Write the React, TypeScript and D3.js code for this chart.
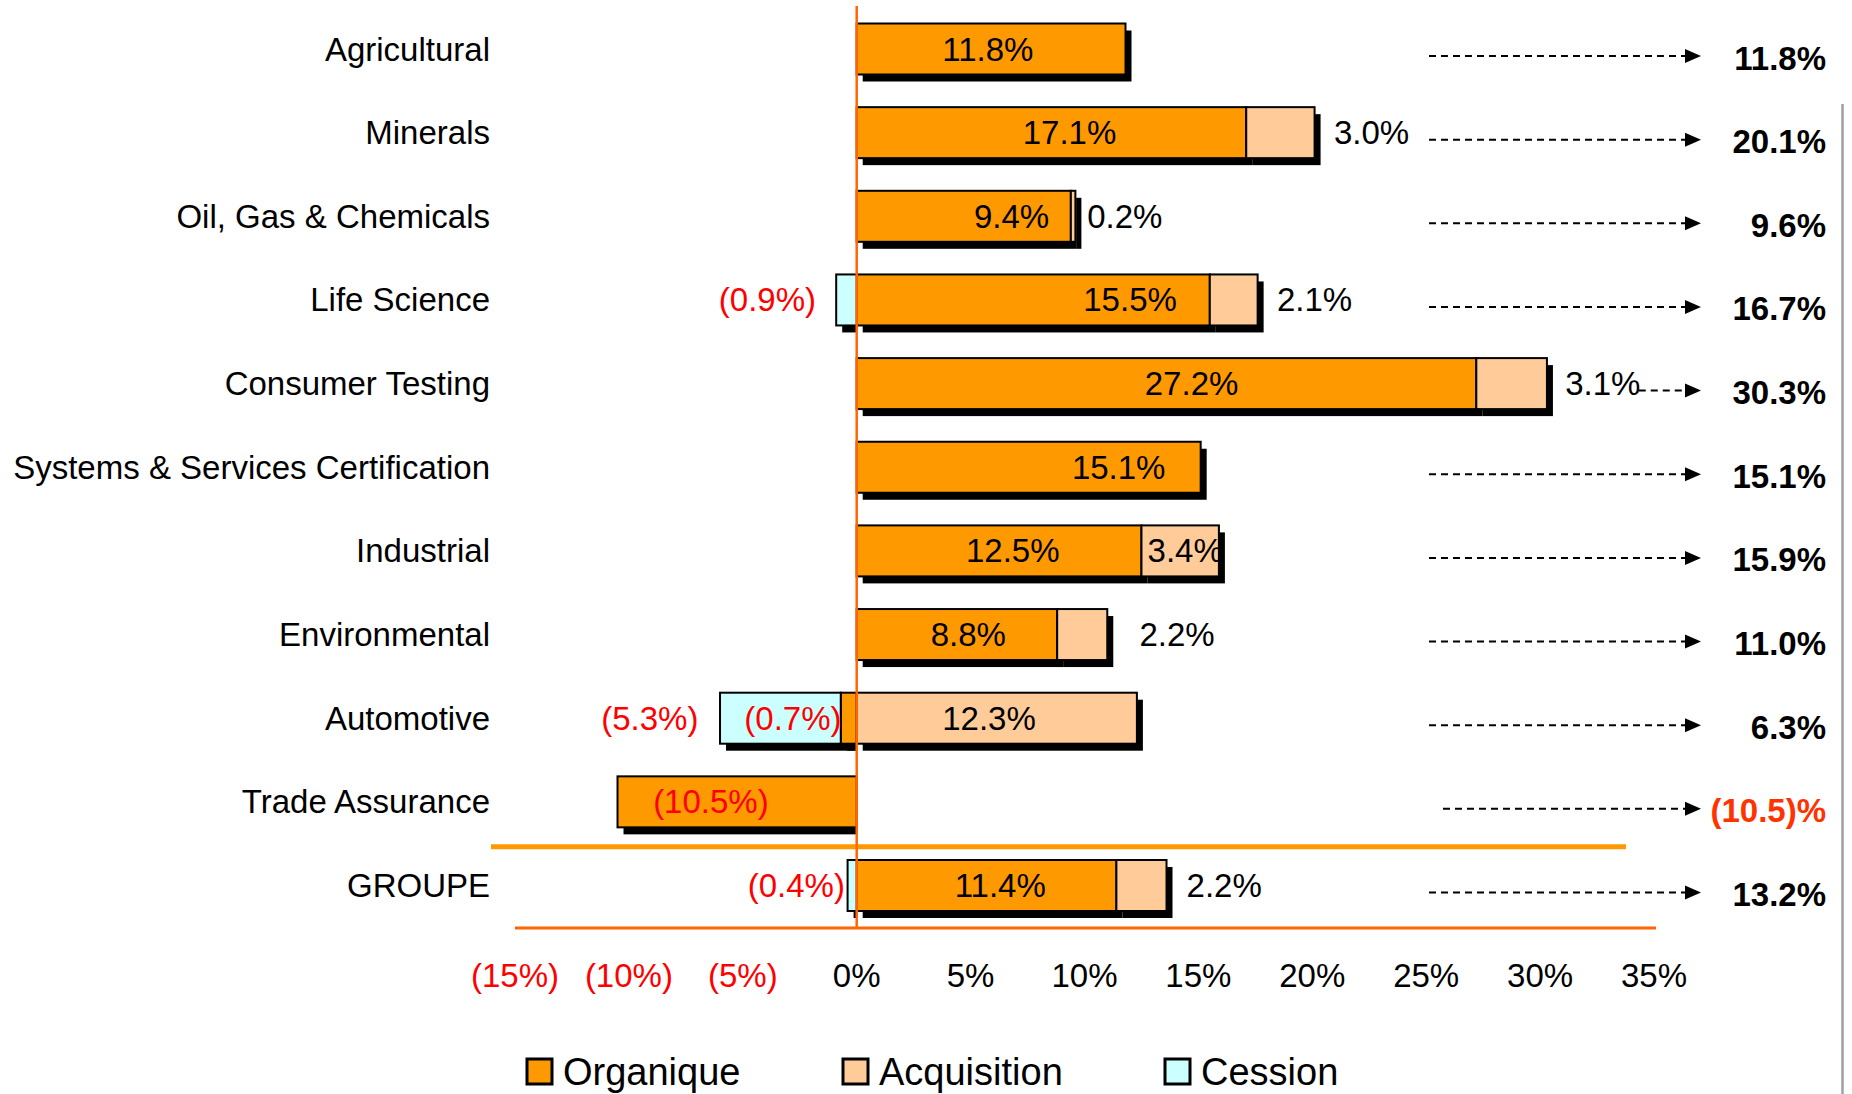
import React from 'react';
import * as d3 from 'd3';

// rows, top to bottom
const categories = [
  'Agricultural',
  'Minerals',
  'Oil, Gas & Chemicals',
  'Life Science',
  'Consumer Testing',
  'Systems & Services Certification',
  'Industrial',
  'Environmental',
  'Automotive',
  'Trade Assurance',
  'GROUPE',
];
const organique = [11.8, 17.1, 9.4, 15.5, 27.2, 15.1, 12.5, 8.8, -0.7, -10.5, 11.4];
const acquisition = [0, 3.0, 0.2, 2.1, 3.1, 0, 3.4, 2.2, 12.3, 0, 2.2];
const cession = [0, 0, 0, -0.9, 0, 0, 0, 0, -5.3, 0, -0.4];
const totals = [11.8, 20.1, 9.6, 16.7, 30.3, 15.1, 15.9, 11.0, 6.3, -10.5, 13.2];
const xTicks = [-15, -10, -5, 0, 5, 10, 15, 20, 25, 30, 35];

// where each value label sits along the axis (in % units)
const orgLabelAt = [5.76, 9.34, 6.8, 12.0, 14.7, 11.5, 6.85, 4.9, -2.8, -6.4, 6.3];
const acqLabelAt = [null, 22.6, 11.77, 20.1, 32.75, null, 14.42, 14.06, 5.81, null, 16.13];
const cesLabelAt = [null, null, null, -3.92, null, null, null, null, -9.08, null, -2.65];

const legendNames = ['Organique', 'Acquisition', 'Cession'];

const style = {
  font: '"Liberation Sans", Arial, sans-serif',
  fontSize: 33,
  legendFontSize: 38,
  orange: '#FF9900',
  peach: '#FFCC99',
  cyan: '#CCFFFF',
  red: '#FF0000',
  totalRed: '#FF3300',
  zeroLine: '#FF6600',
  barHeight: 51,
  shadowDx: 6,
  shadowDy: 7,
};

const keys = ['org', 'acq', 'ces'] as const;
const fills: Record<string, string> = { org: style.orange, acq: style.peach, ces: style.cyan };

const fmt = (v: number) => (v < 0 ? `(${Math.abs(v).toFixed(1)}%)` : `${v.toFixed(1)}%`);
const fmtTick = (v: number) => (v < 0 ? `(${Math.abs(v)}%)` : `${v}%`);
const fmtTotal = (v: number) => (v < 0 ? `(${Math.abs(v).toFixed(1)})%` : `${v.toFixed(1)}%`);

const width = 1852;
const height = 1094;

const App: React.FC = () => {
  const x = d3.scaleLinear().domain([-15, 35]).range([515, 1654]);
  const y = d3.scalePoint<string>().domain(categories).range([49, 885.5]);

  const rows = categories.map((c, i) => ({
    cat: c,
    org: organique[i],
    acq: acquisition[i],
    ces: cession[i],
  }));

  const series = d3
    .stack<any>()
    .keys(keys as any)
    .offset(d3.stackOffsetDiverging)(rows);

  const segs: { key: string; i: number; x0: number; x1: number }[] = [];
  series.forEach((s) => {
    s.forEach((d, i) => {
      if (d[0] === d[1]) return;
      segs.push({ key: s.key, i, x0: x(Math.min(d[0], d[1])), x1: x(Math.max(d[0], d[1])) });
    });
  });

  const bh = style.barHeight;
  const arrowTip = 1701;
  const arrowDefaultStart = 1429;
  const totalX = 1826;
  const zeroX = x(0);
  const sepY = (y(categories[9])! + y(categories[10])!) / 2 + 3;

  return (
    <svg
      width={width}
      height={height}
      style={{ position: 'absolute', left: 0, top: 0, background: '#fff' }}
      fontFamily={style.font}
    >
      {/* category labels */}
      {categories.map((c) => (
        <text
          key={c}
          x={490}
          y={y(c)}
          textAnchor="end"
          dominantBaseline="central"
          fontSize={style.fontSize}
          fill="#000"
        >
          {c}
        </text>
      ))}

      {/* shadows (negative ones stop at the zero line) */}
      {segs.map((s, k) => {
        const sx0 = s.x0 + style.shadowDx;
        const sx1 = s.x1 <= zeroX + 0.5 ? zeroX : s.x1 + style.shadowDx;
        return (
          <rect
            key={'sh' + k}
            x={sx0}
            y={y(categories[s.i])! - bh / 2 + style.shadowDy}
            width={Math.max(0, sx1 - sx0)}
            height={bh}
            fill="#000"
          />
        );
      })}

      {/* bars */}
      {segs.map((s, k) => (
        <rect
          key={'b' + k}
          x={s.x0}
          y={y(categories[s.i])! - bh / 2}
          width={s.x1 - s.x0}
          height={bh}
          fill={fills[s.key]}
          stroke="#000"
          strokeWidth={2}
        />
      ))}

      {/* separators */}
      <line x1={491} x2={1626} y1={sepY} y2={sepY} stroke="#FF9900" strokeWidth={5} />
      <line x1={515} x2={1656} y1={928} y2={928} stroke="#FF6600" strokeWidth={3} />
      <line x1={zeroX} x2={zeroX} y1={6} y2={928} stroke={style.zeroLine} strokeWidth={2.5} />

      {/* value labels */}
      {categories.map((c, i) => {
        const cy = y(c)!;
        return (
          <g key={'lab' + i} fontSize={style.fontSize} dominantBaseline="central" textAnchor="middle">
            {organique[i] !== 0 && (
              <text x={x(orgLabelAt[i])} y={cy} fill={organique[i] < 0 ? style.red : '#000'}>
                {fmt(organique[i])}
              </text>
            )}
            {acqLabelAt[i] !== null && (
              <text x={x(acqLabelAt[i] as number)} y={cy} fill="#000">
                {fmt(acquisition[i])}
              </text>
            )}
            {cesLabelAt[i] !== null && (
              <text x={x(cesLabelAt[i] as number)} y={cy} fill={style.red}>
                {fmt(cession[i])}
              </text>
            )}
          </g>
        );
      })}

      {/* arrows + totals */}
      {categories.map((c, i) => {
        const ay = y(c)! + 7;
        const acqEnd = acqLabelAt[i] !== null ? x(acqLabelAt[i] as number) + 36 : 0;
        const start = Math.max(totals[i] < 0 ? arrowDefaultStart + 14 : arrowDefaultStart, acqEnd);
        return (
          <g key={'tot' + i}>
            <line
              x1={start}
              x2={arrowTip - 14}
              y1={ay}
              y2={ay}
              stroke="#000"
              strokeWidth={2}
              strokeDasharray="7,5"
            />
            <path d={`M${arrowTip - 16},${ay - 7}L${arrowTip},${ay}L${arrowTip - 16},${ay + 7}Z`} fill="#000" />
            <text
              x={totalX}
              y={ay + 2}
              textAnchor="end"
              dominantBaseline="central"
              fontSize={style.fontSize}
              fontWeight="bold"
              fill={totals[i] < 0 ? style.totalRed : '#000'}
            >
              {fmtTotal(totals[i])}
            </text>
          </g>
        );
      })}

      {/* right border */}
      <line x1={1842.5} x2={1842.5} y1={104} y2={height} stroke="#A0A0A0" strokeWidth={2.5} />

      {/* x tick labels */}
      {xTicks.map((t) => (
        <text
          key={'t' + t}
          x={x(t)}
          y={987}
          textAnchor="middle"
          fontSize={style.fontSize}
          fill={t < 0 ? style.red : '#000'}
        >
          {fmtTick(t)}
        </text>
      ))}

      {/* legend */}
      {legendNames.map((n, i) => {
        const lx = [527, 843, 1165][i];
        return (
          <g key={n}>
            <rect x={lx} y={1059} width={25} height={25} fill={fills[keys[i]]} stroke="#000" strokeWidth={3} />
            <text x={lx + 36} y={1085} fontSize={style.legendFontSize} fill="#000">
              {n}
            </text>
          </g>
        );
      })}
    </svg>
  );
};

export default App;
